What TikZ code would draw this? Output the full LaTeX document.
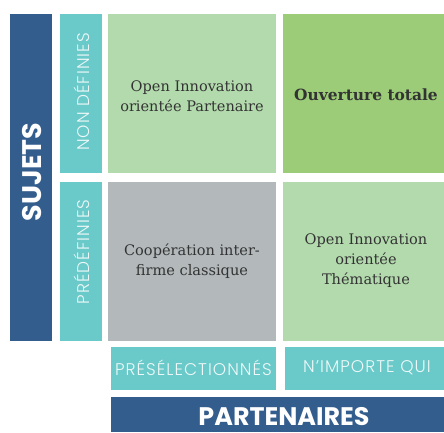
\documentclass[tikz,border=0pt]{standalone}
\usepackage{fontspec}
\setmainfont{DejaVu Serif}
\newfontfamily\popb{Poppins Bold}
\newfontfamily\popl{Poppins Light}[LetterSpace=6]
\definecolor{dblue}{HTML}{335D8D}
\definecolor{teal2}{HTML}{6AC9C9}
\definecolor{lgreen}{HTML}{B3DAAD}
\definecolor{dgreen}{HTML}{9CCC78}
\definecolor{cgray}{HTML}{B3B9BB}
\definecolor{ctext}{HTML}{333333}
\definecolor{ltext}{HTML}{EEF8F8}
\begin{document}
\begin{tikzpicture}[x=1bp,y=-1bp,
  cell/.style={inner sep=0pt,outer sep=0pt,text=ctext,align=center,font=\fontsize{14.6}{20}\selectfont},
  tlab/.style={inner sep=0pt,text=ltext,font=\popl\fontsize{17}{18}\selectfont},
  blab/.style={inner sep=0pt,text=white,font=\popb\fontsize{25.5}{28}\selectfont}]
\useasboundingbox (0,0) rectangle (444,432);
% fills
\fill[dblue] (10,14) rectangle (52,341);
\fill[teal2] (60,14) rectangle (102,173);
\fill[teal2] (60,182) rectangle (102,341);
\fill[lgreen] (108,14) rectangle (276,173);
\fill[dgreen] (283,14) rectangle (444,173);
\fill[cgray] (108,182) rectangle (276,341);
\fill[lgreen] (283,182) rectangle (444,341);
\fill[teal2] (111,347) rectangle (276,390);
\fill[teal2] (285,347) rectangle (444,390);
\fill[dblue] (111,397) rectangle (444,432);
% labels
\node[blab,rotate=90,font=\popb\fontsize{27}{28}\selectfont] (sujets) at (32,172) {SUJETS};
\node[tlab,rotate=90] (nondef) at (82,92) {NON DÉFINIES};
\node[tlab,rotate=90] (predef) at (82,252) {PRÉDÉFINIES};
\node[cell] (oip) at (192,96) {Open Innovation\\orientée Partenaire};
\node[cell,font=\bfseries\fontsize{15.5}{20}\selectfont] (ot) at (366,95) {Ouverture totale};
\node[cell] (coop) at (192,261) {Coopération inter-\\firme classique};
\node[cell] (oit) at (366,261) {Open Innovation\\orientée\\Thématique};
\node[tlab] (presel) at (193.5,368) {PRÉSÉLECTIONNÉS};
\node[tlab] (nimp) at (367,368) {N’IMPORTE QUI};
\node[blab] (part) at (284,417) {PARTENAIRES};
\end{tikzpicture}
\end{document}
